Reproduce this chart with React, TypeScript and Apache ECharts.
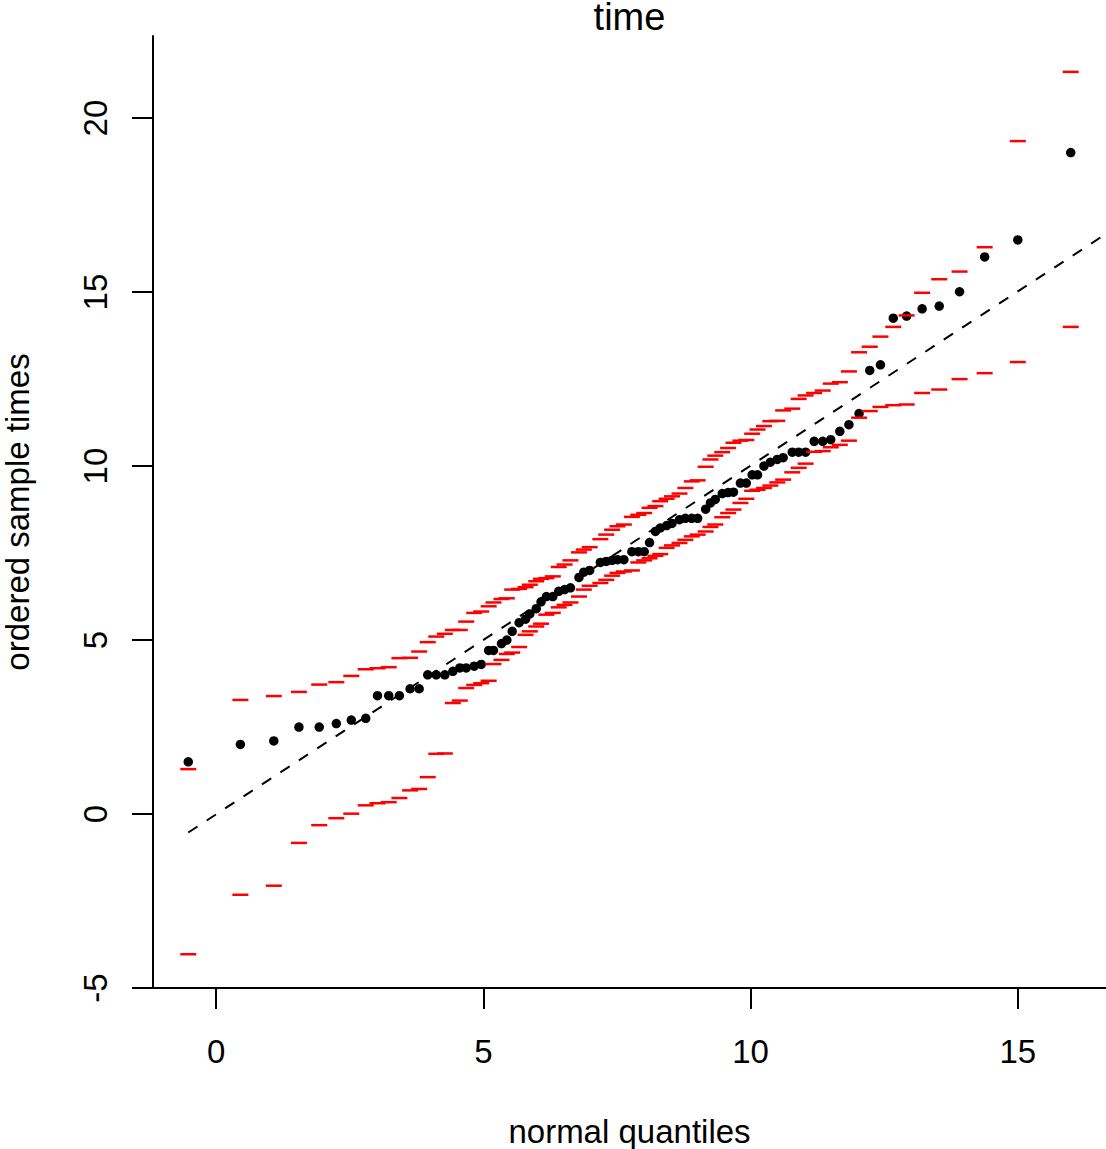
import React, { useEffect, useRef } from "react";
import * as echarts from "echarts";

// normal quantiles (x) of the ordered sample
const quantiles = [
  -0.52, 0.455, 1.08, 1.55, 1.93, 2.25, 2.53, 2.8, 3.02, 3.23,
  3.43, 3.63, 3.8, 3.96, 4.12, 4.28, 4.43, 4.56, 4.68, 4.83,
  4.96, 5.1, 5.19, 5.34, 5.44, 5.54, 5.67, 5.79, 5.87, 5.99,
  6.08, 6.18, 6.3, 6.41, 6.52, 6.63, 6.79, 6.88, 6.99, 7.19,
  7.3, 7.41, 7.51, 7.63, 7.78, 7.9, 8.01, 8.11, 8.22, 8.31,
  8.43, 8.53, 8.67, 8.78, 8.9, 9.01, 9.16, 9.25, 9.34, 9.47,
  9.58, 9.68, 9.81, 9.92, 10.03, 10.13, 10.25, 10.37, 10.5, 10.61,
  10.78, 10.9, 11.03, 11.19, 11.35, 11.5, 11.67, 11.84, 12.03, 12.23,
  12.43, 12.67, 12.92, 13.21, 13.53, 13.91, 14.38, 15.0, 15.99,
];

// ordered sample times (y)
const sampleTimes = [
  1.5, 2.0, 2.1, 2.5, 2.5, 2.6, 2.7, 2.75, 3.4, 3.4,
  3.4, 3.6, 3.6, 4.0, 4.0, 4.0, 4.1, 4.2, 4.2, 4.25,
  4.3, 4.7, 4.7, 4.9, 5.0, 5.25, 5.5, 5.6, 5.75, 5.9,
  6.1, 6.25, 6.25, 6.4, 6.45, 6.5, 6.8, 6.95, 7.0, 7.23,
  7.26, 7.29, 7.31, 7.31, 7.54, 7.54, 7.54, 7.8, 8.12, 8.22,
  8.29, 8.35, 8.46, 8.5, 8.5, 8.5, 8.76, 8.94, 9.04, 9.21,
  9.24, 9.25, 9.51, 9.51, 9.75, 9.75, 10.0, 10.11, 10.19, 10.24,
  10.4, 10.4, 10.4, 10.71, 10.71, 10.76, 11.0, 11.19, 11.51, 12.75,
  12.91, 14.25, 14.31, 14.52, 14.6, 15.01, 16.01, 16.5, 19.01,
];

// simulation envelope: upper bounds
const upperEnvelope = [
  1.29, 3.28, 3.39, 3.51, 3.72, 3.79, 3.97, 4.16, 4.19, 4.22,
  4.48, 4.49, 4.67, 4.94, 5.1, 5.18, 5.29, 5.29, 5.53, 5.78,
  5.82, 5.97, 6.08, 6.18, 6.2, 6.45, 6.47, 6.52, 6.59, 6.69,
  6.76, 6.78, 6.83, 7.1, 7.17, 7.29, 7.52, 7.6, 7.67, 7.9,
  8.03, 8.17, 8.27, 8.32, 8.54, 8.6, 8.65, 8.8, 8.85, 8.99,
  9.06, 9.13, 9.21, 9.37, 9.56, 9.59, 9.98, 10.19, 10.3, 10.4,
  10.52, 10.67, 10.73, 10.75, 10.93, 11.05, 11.15, 11.29, 11.3, 11.6,
  11.65, 11.93, 12.03, 12.1, 12.17, 12.37, 12.41, 12.72, 13.27, 13.43,
  13.72, 14.0, 14.33, 14.98, 15.37, 15.59, 16.29, 19.34, 21.33,
];

// simulation envelope: lower bounds
const lowerEnvelope = [
  -4.03, -2.32, -2.06, -0.83, -0.32, -0.12, 0.01, 0.25, 0.31, 0.34,
  0.46, 0.68, 0.72, 1.06, 1.73, 1.74, 3.19, 3.26, 3.62, 3.71,
  3.76, 3.83, 4.31, 4.43, 4.6, 4.64, 4.8, 5.15, 5.25, 5.39,
  5.47, 5.73, 5.78, 5.94, 6.01, 6.08, 6.25, 6.45, 6.56, 6.64,
  6.73, 6.85, 6.93, 6.97, 7.0, 7.23, 7.29, 7.35, 7.42, 7.47,
  7.65, 7.72, 7.79, 7.88, 7.98, 8.03, 8.12, 8.25, 8.32, 8.53,
  8.65, 8.75, 8.94, 9.06, 9.29, 9.32, 9.37, 9.44, 9.53, 9.61,
  9.82, 9.95, 10.07, 10.41, 10.43, 10.54, 10.61, 10.73, 11.39, 11.58,
  11.7, 11.75, 11.77, 12.1, 12.2, 12.5, 12.67, 12.99, 14.0,
];

// reference line (intercept, slope)
const refIntercept = -0.01;
const refSlope = 1.002;

const xTicks = [0, 5, 10, 15];
const yTicks = [-5, 0, 5, 10, 15, 20];

const X_MIN = -1.18;
const X_MAX = 16.65;
const Y_MIN = -5;
const Y_MAX = 22.36;

const FONT = "'Liberation Sans', Arial, Helvetica, sans-serif";

export default function App() {
  const ref = useRef<HTMLDivElement>(null);

  useEffect(() => {
    if (!ref.current) return;
    const chart = echarts.init(ref.current, null, { renderer: "svg" });

    const points = quantiles.map((q, i) => [q, sampleTimes[i]]);
    const upper = quantiles.map((q, i) => [q, upperEnvelope[i]]);
    const lower = quantiles.map((q, i) => [q, lowerEnvelope[i]]);
    const lineStart = quantiles[0];
    const refLine = [
      [lineStart, refIntercept + refSlope * lineStart],
      [X_MAX, refIntercept + refSlope * X_MAX],
    ];

    const axisCommon = {
      axisLine: { show: true, onZero: false, lineStyle: { color: "#000", width: 2 } },
      splitLine: { show: false },
    };

    chart.setOption({
      animation: false,
      backgroundColor: "#fff",
      grid: { left: 153, right: 0, top: 36, bottom: 161, containLabel: false },
      xAxis: {
        type: "value",
        min: X_MIN,
        max: X_MAX,
        ...axisCommon,
        axisTick: {
          show: true,
          length: 21,
          customValues: xTicks,
          lineStyle: { color: "#000", width: 2 },
        },
        axisLabel: {
          customValues: xTicks,
          fontSize: 33,
          fontFamily: FONT,
          color: "#000",
          margin: 63,
          verticalAlign: "middle",
        },
      },
      yAxis: {
        type: "value",
        min: Y_MIN,
        max: Y_MAX,
        ...axisCommon,
        axisTick: {
          show: true,
          length: 21,
          customValues: yTicks,
          lineStyle: { color: "#000", width: 2 },
        },
        axisLabel: {
          customValues: yTicks,
          fontSize: 33,
          fontFamily: FONT,
          color: "#000",
          rotate: 90,
          margin: 58,
          align: "center",
          verticalAlign: "middle",
        },
      },
      graphic: [
        {
          type: "text",
          x: 629.5,
          y: 17,
          style: {
            text: "time",
            fontSize: 38,
            lineHeight: 34,
            fontFamily: FONT,
            fill: "#000",
            align: "center",
            verticalAlign: "middle",
          },
        },
        {
          type: "text",
          x: 629.5,
          y: 1131,
          style: {
            text: "normal quantiles",
            fontSize: 33,
            fontFamily: FONT,
            fill: "#000",
            align: "center",
            verticalAlign: "middle",
          },
        },
        {
          type: "text",
          x: 17,
          y: 512,
          rotation: Math.PI / 2,
          style: {
            text: "ordered sample times",
            fontSize: 33,
            fontFamily: FONT,
            fill: "#000",
            align: "center",
            verticalAlign: "middle",
          },
        },
      ],
      series: [
        {
          type: "scatter",
          data: points,
          symbol: "circle",
          symbolSize: 9.5,
          itemStyle: { color: "#000", opacity: 1 },
          z: 2,
        },
        {
          type: "line",
          data: refLine,
          symbol: "none",
          lineStyle: { color: "#000", width: 2, type: [11, 11], opacity: 1 },
          z: 3,
        },
        {
          type: "scatter",
          data: upper,
          symbol: "rect",
          symbolSize: [16, 2.5],
          itemStyle: { color: "#ff0000", opacity: 1 },
          z: 4,
        },
        {
          type: "scatter",
          data: lower,
          symbol: "rect",
          symbolSize: [16, 2.5],
          itemStyle: { color: "#ff0000", opacity: 1 },
          z: 4,
        },
      ],
    });

    return () => chart.dispose();
  }, []);

  return (
    <div
      ref={ref}
      style={{ position: "absolute", left: 0, top: 0, width: 1106, height: 1149 }}
    />
  );
}
